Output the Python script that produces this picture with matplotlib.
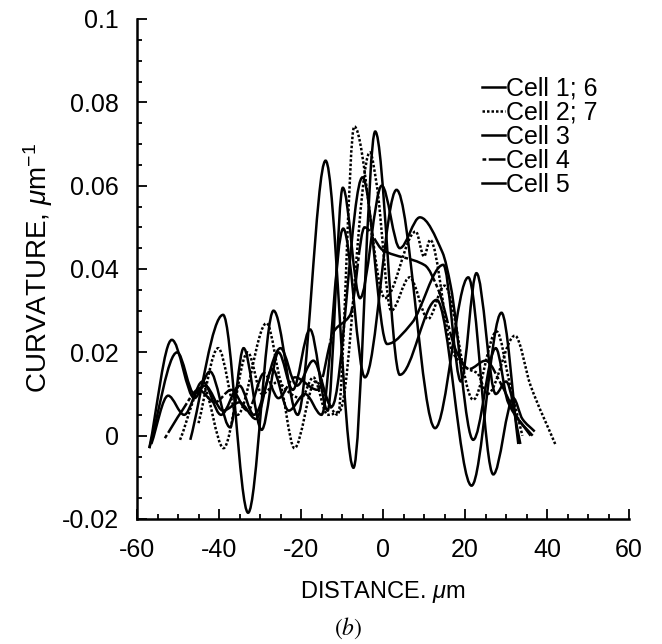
import numpy as np
import matplotlib.pyplot as plt
from matplotlib.path import Path
from matplotlib.patches import PathPatch
from matplotlib.lines import Line2D
from matplotlib.ticker import MultipleLocator

plt.rcParams['font.family'] = ['Liberation Sans', 'DejaVu Sans']
plt.rcParams['mathtext.fontset'] = 'custom'
plt.rcParams['mathtext.rm'] = 'Liberation Sans'
plt.rcParams['mathtext.it'] = 'Liberation Sans:italic'
plt.rcParams['axes.unicode_minus'] = False

# curvature profiles (distance um, curvature 1/um), turning points
cell1_x = [-47, -39, -32.9, -26.7, -20.8, -14, -7.2, -1.9, 4.1, 13.1, 21.6, 28.9, 33]
cell1_y = [-0.001, 0.029, -0.0185, 0.030, 0.005, 0.066, -0.0077, 0.073, 0.0146, 0.0326, -0.012, 0.0295, -0.002]

cell6_x = [-57, -51.5, -46, -42.2, -37.3, -34, -29.6, -25.5, -22, -17.8, -13.5, -9.8, -5.6,
           -0.3, 4.1, 9, 14.5, 16.5, 22, 27.5, 30.5, 36]
cell6_y = [-0.003, 0.023, 0.009, 0.0154, 0.002, 0.021, 0.0014, 0.020, 0.011, 0.0255, 0.006, 0.0595, 0.033,
           0.060, 0.045, 0.0524, 0.044, 0.036, -0.001, 0.021, 0.008, 0.0]

cell2_x = [-49.5, -44, -38.9, -33, -29.5, -25.5, -21.6, -16.5, -11, -7, 0.5, 8, 10, 11.5,
           17, 20.8, 23, 25.5, 32.2, 36, 42]
cell2_y = [-0.001, 0.012, -0.003, 0.020, 0.010, 0.013, -0.003, 0.013, 0.005, 0.0742, 0.033, 0.049, 0.043, 0.047,
           0.020, 0.016, 0.015, 0.010, 0.024, 0.012, -0.002]

cell7_x = [-45, -40.2, -35.5, -28.4, -24.5, -20, -17, -13.5, -10.5, -3.2, -1.5, 2, 6.5, 11,
           15, 22, 27.7, 31, 34]
cell7_y = [0.003, 0.021, 0.005, 0.027, 0.012, 0.009, 0.014, 0.005, 0.006, 0.068, 0.060, 0.030, 0.038, 0.028,
           0.036, 0.0086, 0.025, 0.012, 0.0]

cell3_x = [-56.5, -52.4, -48.5, -44, -39.5, -35, -31.5, -25, -21, -17, -12.5, -5, 1, 7,
           14.7, 19, 22.8, 27.5, 30, 33.5]
cell3_y = [-0.002, 0.0096, 0.005, 0.013, 0.005, 0.012, 0.005, 0.021, 0.012, 0.018, 0.007, 0.062, 0.022, 0.027,
           0.041, 0.013, 0.039, 0.010, 0.013, -0.002]

cell4_x = [-53.2, -49, -45, -41, -37, -33, -29, -25.5, -21.5, -16, -12, -8, -4.5, 0,
           10.2, 13.5, 18, 21, 25, 29, 33, 36.5]
cell4_y = [-0.0006, 0.006, 0.011, 0.008, 0.011, 0.006, 0.015, 0.009, 0.014, 0.011, 0.025, 0.029, 0.050, 0.0445,
           0.0409, 0.035, 0.020, 0.016, 0.018, 0.012, 0.004, 0.0]

cell5_x = [-57, -50.2, -46, -43.4, -39, -35, -31, -27, -23, -19, -15, -9.7, -4.4, 3.3,
           12.7, 20.8, 26.9, 31.8, 34, 37]
cell5_y = [-0.003, 0.020, 0.010, 0.012, 0.006, 0.008, 0.004, 0.016, 0.006, 0.010, 0.005, 0.0497, 0.014, 0.059,
           0.0018, 0.038, -0.0093, 0.009, 0.004, 0.001]

legend_labels = ['Cell 1; 6', 'Cell 2; 7', 'Cell 3', 'Cell 4', 'Cell 5']
x_ticks = [-60, -40, -20, 0, 20, 40, 60]
y_ticks = [-0.02, 0, 0.02, 0.04, 0.06, 0.08, 0.1]
y_ticklabels = ['-0.02', '0', '0.02', '0.04', '0.06', '0.08', '0.1']


def smooth_path(xs, ys):
    # bezier segments with flat tangents at the turning points
    x = np.asarray(xs, float)
    y = np.asarray(ys, float)
    s = np.diff(y) / np.diff(x)
    m = np.zeros_like(y)
    m[0], m[-1] = s[0], s[-1]
    for i in range(1, len(x) - 1):
        if s[i - 1] * s[i] > 0:
            m[i] = 2.0 / (1.0 / s[i - 1] + 1.0 / s[i])
    verts = [(x[0], y[0])]
    codes = [Path.MOVETO]
    for i in range(len(x) - 1):
        d = x[i + 1] - x[i]
        verts += [(x[i] + d / 3, y[i] + m[i] * d / 3),
                  (x[i + 1] - d / 3, y[i + 1] - m[i + 1] * d / 3),
                  (x[i + 1], y[i + 1])]
        codes += [Path.CURVE4] * 3
    return Path(verts, codes)


dotted = (0, (1, 0.8))
dashy = (0, (1.5, 1, 14, 1))

fig = plt.figure(figsize=(6.62, 6.44), dpi=100)
ax = fig.add_axes([137 / 662, 125 / 644, 492 / 662, 500 / 644])

series = [(cell1_x, cell1_y, '-'), (cell6_x, cell6_y, '-'),
          (cell2_x, cell2_y, dotted), (cell7_x, cell7_y, dotted),
          (cell3_x, cell3_y, '-'), (cell4_x, cell4_y, dashy),
          (cell5_x, cell5_y, '-')]
for xs, ys, ls in series:
    ax.add_patch(PathPatch(smooth_path(xs, ys), fill=False, edgecolor='black',
                           lw=1.8, linestyle=ls))

ax.set_xlim(-60, 60)
ax.set_ylim(-0.02, 0.1)
ax.set_xticks(x_ticks)
ax.xaxis.set_minor_locator(MultipleLocator(5))
ax.set_yticks(y_ticks)
ax.set_yticklabels(y_ticklabels)
ax.yaxis.set_minor_locator(MultipleLocator(0.005))

for side in ['top', 'right']:
    ax.spines[side].set_visible(False)
for side in ['left', 'bottom']:
    ax.spines[side].set_linewidth(1.8)
ax.tick_params(which='both', direction='in', width=1.3, labelsize=18)
ax.tick_params(which='major', length=7)
ax.tick_params(axis='y', which='major', pad=13)
ax.tick_params(axis='x', which='major', pad=14)
ax.tick_params(which='minor', length=3.5)

ax.set_ylabel('CURVATURE, $\\mu\\mathrm{m}^{-1}$', fontsize=20, va='center')
ax.yaxis.set_label_coords(-0.2, 0.502)
ax.set_xlabel('DISTANCE. $\\mu\\mathrm{m}$', fontsize=17)
ax.xaxis.set_label_coords(0.5, -0.12)

styles = ['-', dotted, '-', dashy, '-']
handles = [Line2D([], [], color='black', lw=1.8, linestyle=ls) for ls in styles]
ax.legend(handles, legend_labels, loc='upper left', bbox_to_anchor=(0.701, 0.885),
          frameon=False, fontsize=18, handlelength=0.92, handletextpad=0.05,
          labelspacing=0.0, borderpad=0, borderaxespad=0)

fig.text(0.526, 0.025, '$(b)$', fontsize=17, ha='center', va='center',
         math_fontfamily='stix')

fig.savefig('out.png', dpi=100)
